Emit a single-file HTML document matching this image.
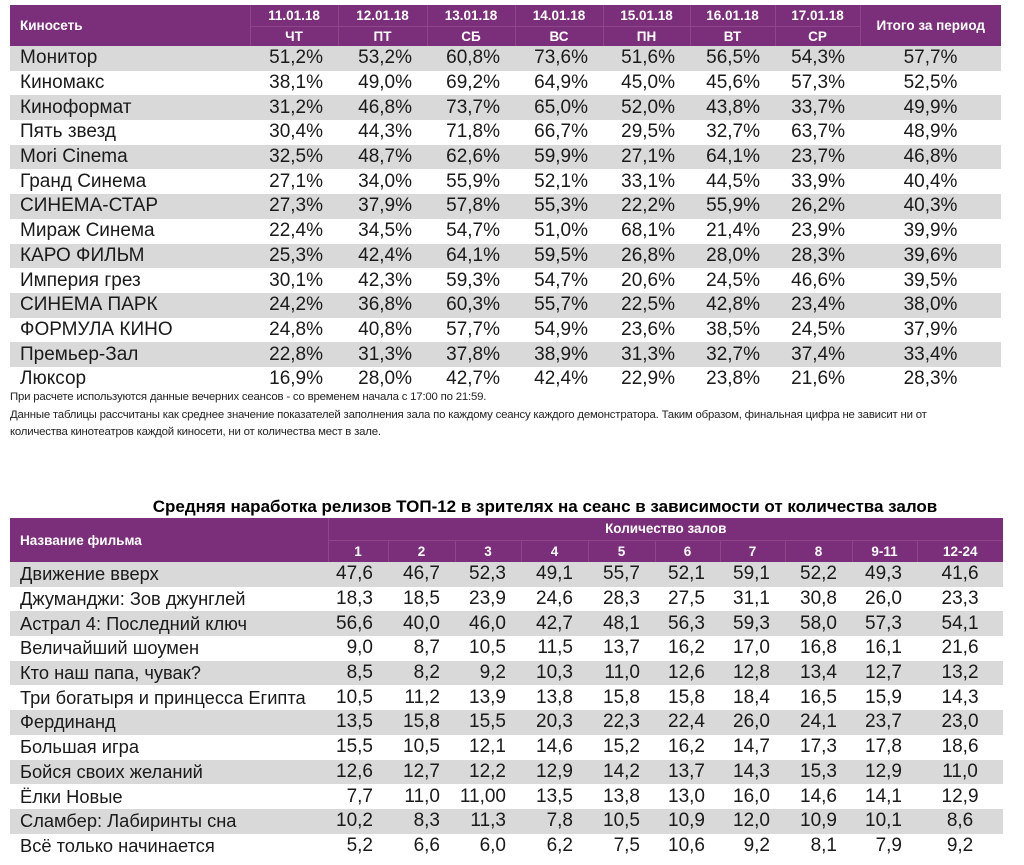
<!DOCTYPE html>
<html><head><meta charset="utf-8"><style>
body{margin:0;width:1024px;height:865px;background:#fff;position:relative;overflow:hidden;font-family:"Liberation Sans",sans-serif;color:#1a1a1a}
table{border-collapse:collapse;table-layout:fixed;position:absolute;left:10px}
td,th{padding:0;white-space:nowrap;overflow:visible}
th{background:#7b2f7a;color:#fff;font-weight:bold;font-size:13.5px;text-align:center;border-left:1px solid #8c4689}
th.n{text-align:left;padding-left:10px;border-left:none}
tr.h2 th{border-top:1px solid #8c4689}
td{font-size:19px;height:24.7px;text-align:right;padding-right:15px}
td.n{text-align:left;padding-left:10px;padding-right:0}
td.c{text-align:center;padding-right:0}
tr.g td{background:#d9d9d9}
.t2 td.n{font-size:18.3px}
.note{position:absolute;left:10px;font-size:11.4px;letter-spacing:-0.2px;color:#222}
.title{position:absolute;left:0;width:1090px;text-align:center;top:497px;font-size:17px;font-weight:bold;color:#000}
</style></head><body>
<table style="top:5px;width:991px">
<colgroup><col style="width:240px"><col style="width:88px"><col style="width:89px"><col style="width:88px"><col style="width:88px"><col style="width:87px"><col style="width:85px"><col style="width:85px"><col style="width:141px"></colgroup>
<tr style="height:21px"><th class="n" rowspan="2">Киносеть</th><th>11.01.18</th><th>12.01.18</th><th>13.01.18</th><th>14.01.18</th><th>15.01.18</th><th>16.01.18</th><th>17.01.18</th><th rowspan="2">Итого за период</th></tr>
<tr class="h2" style="height:20px"><th>ЧТ</th><th>ПТ</th><th>СБ</th><th>ВС</th><th>ПН</th><th>ВТ</th><th>СР</th></tr>
<tr class="g"><td class="n">Монитор</td><td>51,2%</td><td>53,2%</td><td>60,8%</td><td>73,6%</td><td>51,6%</td><td>56,5%</td><td>54,3%</td><td class="c">57,7%</td></tr>
<tr><td class="n">Киномакс</td><td>38,1%</td><td>49,0%</td><td>69,2%</td><td>64,9%</td><td>45,0%</td><td>45,6%</td><td>57,3%</td><td class="c">52,5%</td></tr>
<tr class="g"><td class="n">Киноформат</td><td>31,2%</td><td>46,8%</td><td>73,7%</td><td>65,0%</td><td>52,0%</td><td>43,8%</td><td>33,7%</td><td class="c">49,9%</td></tr>
<tr><td class="n">Пять звезд</td><td>30,4%</td><td>44,3%</td><td>71,8%</td><td>66,7%</td><td>29,5%</td><td>32,7%</td><td>63,7%</td><td class="c">48,9%</td></tr>
<tr class="g"><td class="n">Mori Cinema</td><td>32,5%</td><td>48,7%</td><td>62,6%</td><td>59,9%</td><td>27,1%</td><td>64,1%</td><td>23,7%</td><td class="c">46,8%</td></tr>
<tr><td class="n">Гранд Синема</td><td>27,1%</td><td>34,0%</td><td>55,9%</td><td>52,1%</td><td>33,1%</td><td>44,5%</td><td>33,9%</td><td class="c">40,4%</td></tr>
<tr class="g"><td class="n">СИНЕМА-СТАР</td><td>27,3%</td><td>37,9%</td><td>57,8%</td><td>55,3%</td><td>22,2%</td><td>55,9%</td><td>26,2%</td><td class="c">40,3%</td></tr>
<tr><td class="n">Мираж Синема</td><td>22,4%</td><td>34,5%</td><td>54,7%</td><td>51,0%</td><td>68,1%</td><td>21,4%</td><td>23,9%</td><td class="c">39,9%</td></tr>
<tr class="g"><td class="n">КАРО ФИЛЬМ</td><td>25,3%</td><td>42,4%</td><td>64,1%</td><td>59,5%</td><td>26,8%</td><td>28,0%</td><td>28,3%</td><td class="c">39,6%</td></tr>
<tr><td class="n">Империя грез</td><td>30,1%</td><td>42,3%</td><td>59,3%</td><td>54,7%</td><td>20,6%</td><td>24,5%</td><td>46,6%</td><td class="c">39,5%</td></tr>
<tr class="g"><td class="n">СИНЕМА ПАРК</td><td>24,2%</td><td>36,8%</td><td>60,3%</td><td>55,7%</td><td>22,5%</td><td>42,8%</td><td>23,4%</td><td class="c">38,0%</td></tr>
<tr><td class="n">ФОРМУЛА КИНО</td><td>24,8%</td><td>40,8%</td><td>57,7%</td><td>54,9%</td><td>23,6%</td><td>38,5%</td><td>24,5%</td><td class="c">37,9%</td></tr>
<tr class="g"><td class="n">Премьер-Зал</td><td>22,8%</td><td>31,3%</td><td>37,8%</td><td>38,9%</td><td>31,3%</td><td>32,7%</td><td>37,4%</td><td class="c">33,4%</td></tr>
<tr><td class="n">Люксор</td><td>16,9%</td><td>28,0%</td><td>42,7%</td><td>42,4%</td><td>22,9%</td><td>23,8%</td><td>21,6%</td><td class="c">28,3%</td></tr>
</table>
<div class="note" style="top:391px">При расчете используются данные вечерних сеансов - со временем начала с 17:00 по 21:59.</div>
<div class="note" style="top:409px">Данные таблицы рассчитаны как среднее значение показателей заполнения зала по каждому сеансу каждого демонстратора. Таким образом, финальная цифра не зависит ни от</div>
<div class="note" style="top:426px">количества кинотеатров каждой киносети, ни от количества мест в зале.</div>
<div class="title">Средняя наработка релизов ТОП-12 в зрителях на сеанс в зависимости от количества залов</div>
<table class="t2" style="top:518px;width:993px">
<colgroup><col style="width:318px"><col style="width:60px"><col style="width:67px"><col style="width:66px"><col style="width:67px"><col style="width:67px"><col style="width:65px"><col style="width:65px"><col style="width:67px"><col style="width:65px"><col style="width:86px"></colgroup>
<tr style="height:22px"><th class="n" rowspan="2">Название фильма</th><th colspan="10" style="border-left:1px solid #8c4689">Количество залов</th></tr>
<tr class="h2" style="height:22px"><th>1</th><th>2</th><th>3</th><th>4</th><th>5</th><th>6</th><th>7</th><th>8</th><th>9-11</th><th>12-24</th></tr>
<tr class="g"><td class="n">Движение вверх</td><td>47,6</td><td>46,7</td><td>52,3</td><td>49,1</td><td>55,7</td><td>52,1</td><td>59,1</td><td>52,2</td><td>49,3</td><td class="c">41,6</td></tr>
<tr><td class="n">Джуманджи: Зов джунглей</td><td>18,3</td><td>18,5</td><td>23,9</td><td>24,6</td><td>28,3</td><td>27,5</td><td>31,1</td><td>30,8</td><td>26,0</td><td class="c">23,3</td></tr>
<tr class="g"><td class="n">Астрал 4: Последний ключ</td><td>56,6</td><td>40,0</td><td>46,0</td><td>42,7</td><td>48,1</td><td>56,3</td><td>59,3</td><td>58,0</td><td>57,3</td><td class="c">54,1</td></tr>
<tr><td class="n">Величайший шоумен</td><td>9,0</td><td>8,7</td><td>10,5</td><td>11,5</td><td>13,7</td><td>16,2</td><td>17,0</td><td>16,8</td><td>16,1</td><td class="c">21,6</td></tr>
<tr class="g"><td class="n">Кто наш папа, чувак?</td><td>8,5</td><td>8,2</td><td>9,2</td><td>10,3</td><td>11,0</td><td>12,6</td><td>12,8</td><td>13,4</td><td>12,7</td><td class="c">13,2</td></tr>
<tr><td class="n">Три богатыря и принцесса Египта</td><td>10,5</td><td>11,2</td><td>13,9</td><td>13,8</td><td>15,8</td><td>15,8</td><td>18,4</td><td>16,5</td><td>15,9</td><td class="c">14,3</td></tr>
<tr class="g"><td class="n">Фердинанд</td><td>13,5</td><td>15,8</td><td>15,5</td><td>20,3</td><td>22,3</td><td>22,4</td><td>26,0</td><td>24,1</td><td>23,7</td><td class="c">23,0</td></tr>
<tr><td class="n">Большая игра</td><td>15,5</td><td>10,5</td><td>12,1</td><td>14,6</td><td>15,2</td><td>16,2</td><td>14,7</td><td>17,3</td><td>17,8</td><td class="c">18,6</td></tr>
<tr class="g"><td class="n">Бойся своих желаний</td><td>12,6</td><td>12,7</td><td>12,2</td><td>12,9</td><td>14,2</td><td>13,7</td><td>14,3</td><td>15,3</td><td>12,9</td><td class="c">11,0</td></tr>
<tr><td class="n">Ёлки Новые</td><td>7,7</td><td>11,0</td><td>11,00</td><td>13,5</td><td>13,8</td><td>13,0</td><td>16,0</td><td>14,6</td><td>14,1</td><td class="c">12,9</td></tr>
<tr class="g"><td class="n">Сламбер: Лабиринты сна</td><td>10,2</td><td>8,3</td><td>11,3</td><td>7,8</td><td>10,5</td><td>10,9</td><td>12,0</td><td>10,9</td><td>10,1</td><td class="c">8,6</td></tr>
<tr><td class="n">Всё только начинается</td><td>5,2</td><td>6,6</td><td>6,0</td><td>6,2</td><td>7,5</td><td>10,6</td><td>9,2</td><td>8,1</td><td>7,9</td><td class="c">9,2</td></tr>
</table>
</body></html>
